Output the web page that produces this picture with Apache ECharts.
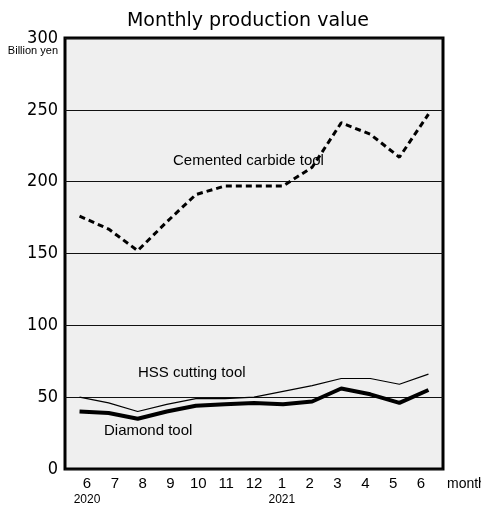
<!DOCTYPE html>
<html>
<head>
<meta charset="utf-8">
<script src="https://cdn.jsdelivr.net/npm/echarts@6/dist/echarts.min.js"></script>
<style>
  html, body { margin: 0; padding: 0; background: #fff; }
  #chart { width: 481px; height: 510px; }
</style>
</head>
<body>
<div id="chart"></div>
<script>
// month labels and the year shown under some of them
const months = ['6', '7', '8', '9', '10', '11', '12', '1', '2', '3', '4', '5', '6'];
const years = ['2020', '', '', '', '', '', '', '2021', '', '', '', '', ''];

// billion yen
const carbide = [176, 167, 152, 172, 191, 197, 197, 197, 210, 241, 233, 217, 247];
const hss = [50, 46, 40, 45, 49, 49, 50, 54, 58, 63, 63, 59, 66];
const diamond = [40, 39, 35, 40, 44, 45, 46, 45, 47, 56, 52, 46, 55];

const font = '"Liberation Sans", Arial, sans-serif';
const narrow = '"Liberation Sans Narrow", "DejaVu Sans Condensed", "Liberation Sans", sans-serif';

const chart = echarts.init(document.getElementById('chart'));

const option = {
  animation: false,
  grid: [
    {
      left: 65, right: 38, top: 38, bottom: 41,
      show: true,
      backgroundColor: '#efefef',
      borderColor: '#000',
      borderWidth: 3,
      z: 0,
    },
    // only used to place the month / year labels
    { left: 87, right: 60, top: 38, bottom: 41, show: false },
  ],
  xAxis: [
    {
      type: 'category',
      gridIndex: 0,
      data: months.map((m, i) => i),
      boundaryGap: true,
      axisLine: { show: false },
      axisTick: { inside: true, length: 9, lineStyle: { color: '#000', width: 1.5 } },
      axisLabel: { show: false },
      splitLine: { show: false },
    },
    {
      type: 'category',
      gridIndex: 1,
      data: months,
      boundaryGap: false,
      axisLine: { show: false },
      axisTick: { show: false },
      axisLabel: {
        margin: 7,
        interval: 0,
        formatter: (v, i) => '{m|' + v + '}\n{y|' + (years[i] || ' ') + '}',
        rich: {
          m: { fontFamily: font, fontSize: 15, color: '#000', lineHeight: 16 },
          y: { fontFamily: font, fontSize: 12, color: '#000', lineHeight: 16 },
        },
      },
    },
  ],
  yAxis: [
    {
      type: 'value',
      gridIndex: 0,
      min: 0,
      max: 300,
      interval: 50,
      axisLine: { show: false },
      axisTick: { show: false },
      axisLabel: { margin: 7, fontFamily: narrow, fontSize: 18, color: '#000' },
      splitLine: { lineStyle: { color: '#111', width: 1.2 } },
    },
    {
      type: 'value',
      gridIndex: 1,
      show: false,
    },
  ],
  series: [
    {
      name: 'Cemented carbide tool',
      type: 'line',
      data: carbide,
      symbol: 'none',
      lineStyle: { color: '#000', width: 3, type: [6, 4] },
    },
    {
      name: 'HSS cutting tool',
      type: 'line',
      data: hss,
      symbol: 'none',
      lineStyle: { color: '#000', width: 1.2 },
    },
    {
      name: 'Diamond tool',
      type: 'line',
      data: diamond,
      symbol: 'none',
      lineStyle: { color: '#000', width: 4 },
    },
  ],
  graphic: [
    {
      type: 'text', x: 248, y: 21,
      style: { text: 'Monthly production value', font: '19px "DejaVu Sans", sans-serif', fill: '#000', textAlign: 'center', textVerticalAlign: 'middle' },
    },
    {
      type: 'text', x: 58, y: 51,
      style: { text: 'Billion yen', font: '11px ' + font, fill: '#000', textAlign: 'right', textVerticalAlign: 'middle' },
    },
    {
      type: 'text', x: 173, y: 161, z: 10,
      style: { text: 'Cemented carbide tool', font: '15px ' + font, fill: '#000', textAlign: 'left', textVerticalAlign: 'middle' },
    },
    {
      type: 'text', x: 138, y: 373, z: 10,
      style: { text: 'HSS cutting tool', font: '15px ' + font, fill: '#000', textAlign: 'left', textVerticalAlign: 'middle' },
    },
    {
      type: 'text', x: 104, y: 431, z: 10,
      style: { text: 'Diamond tool', font: '15px ' + font, fill: '#000', textAlign: 'left', textVerticalAlign: 'middle' },
    },
    {
      type: 'text', x: 447, y: 484,
      style: { text: 'month', font: '14px ' + font, fill: '#000', textAlign: 'left', textVerticalAlign: 'middle' },
    },
  ],
};

chart.setOption(option);
</script>
</body>
</html>
